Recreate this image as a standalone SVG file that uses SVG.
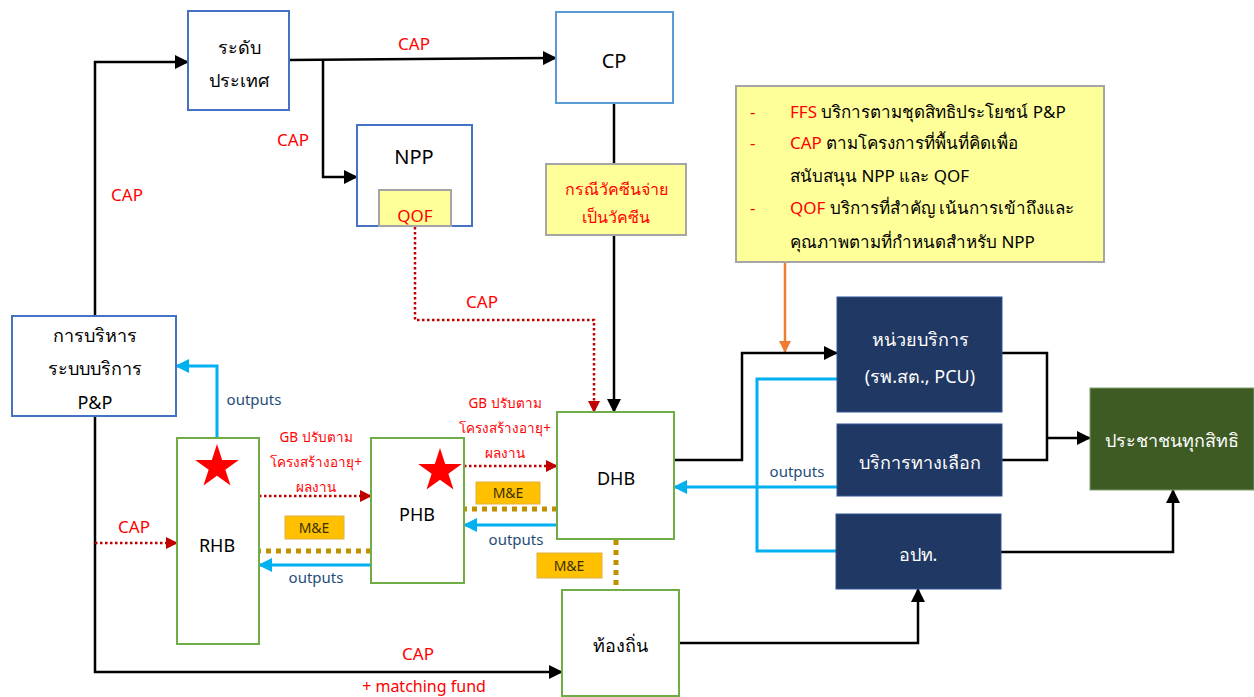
<svg xmlns="http://www.w3.org/2000/svg" width="1254" height="697" viewBox="0 0 1254 697">
<defs>
<style>
text{font-family:"Noto Sans","DejaVu Sans",Tahoma,sans-serif;}
.nb{fill:#fff;stroke:#4472C4;stroke-width:2;}
.nb2{fill:#fff;stroke:#5B9BD5;stroke-width:2;}
.ng{fill:#fff;stroke:#70AD47;stroke-width:2;}
.ny{fill:#FFFF99;stroke:#A5A5A5;stroke-width:2;}
.nd{fill:#203864;stroke:#2F5597;stroke-width:1;}
.ngr{fill:#3D5B23;stroke:#7F9F6F;stroke-width:1;}
.me{fill:#FFC000;stroke:#E0B040;stroke-width:1;}
.t{font-size:18px;fill:#000;text-anchor:middle;}
.tw{font-size:18px;fill:#fff;text-anchor:middle;}
.red{font-size:17px;fill:#FF0000;text-anchor:middle;}
.gb{font-size:13.5px;fill:#FF0000;text-anchor:middle;}
.out{font-size:15px;fill:#1F4E79;text-anchor:middle;}
.mt{font-size:14px;fill:#3A3000;text-anchor:middle;}
.blk{fill:none;stroke:#000;stroke-width:2.5;}
.blu{fill:none;stroke:#00B0F0;stroke-width:3;}
.dr{fill:none;stroke:#C00000;stroke-width:2.5;stroke-dasharray:2.5 2.5;}
.gd{fill:none;stroke:#BF9000;stroke-width:5;stroke-dasharray:5 5;}
.or{fill:none;stroke:#ED7D31;stroke-width:2.5;}
.lg{font-size:17px;fill:#000;}
</style>
<marker id="abk" markerWidth="14" markerHeight="14" refX="13" refY="7" orient="auto" markerUnits="userSpaceOnUse" viewBox="0 0 14 14"><path d="M0,0 L14,7 L0,14 z" fill="#000"/></marker>
<marker id="abl" markerWidth="14" markerHeight="14" refX="13" refY="7" orient="auto" markerUnits="userSpaceOnUse" viewBox="0 0 14 14"><path d="M0,0 L14,7 L0,14 z" fill="#00B0F0"/></marker>
<marker id="ard" markerWidth="12" markerHeight="12" refX="11" refY="6" orient="auto" markerUnits="userSpaceOnUse" viewBox="0 0 12 12"><path d="M0,0 L12,6 L0,12 z" fill="#C00000"/></marker>
<marker id="aor" markerWidth="12" markerHeight="12" refX="11" refY="6" orient="auto" markerUnits="userSpaceOnUse" viewBox="0 0 12 12"><path d="M0,0 L12,6 L0,12 z" fill="#ED7D31"/></marker>
<polygon id="star" points="0,-23 5.17,-7.12 21.87,-7.11 8.37,2.72 13.52,18.61 0,8.8 -13.52,18.61 -8.37,2.72 -21.87,-7.11 -5.17,-7.12" fill="#FF0000"/>
</defs>
<rect width="1254" height="697" fill="#fff"/>

<g id="connectors">
<path class="blk" d="M95,316 V62 H188" marker-end="url(#abk)"/>
<path class="blk" d="M95,416 V672 H562" marker-end="url(#abk)"/>
<path class="blk" d="M289,60 L556,58" marker-end="url(#abk)"/>
<path class="blk" d="M323,60 V177 H357" marker-end="url(#abk)"/>
<path class="blk" d="M614,103 V164"/>
<path class="blk" d="M614,235 V412" marker-end="url(#abk)"/>
<path class="dr" d="M415,227 V320 H594 V412" marker-end="url(#ard)"/>
<path class="or" d="M785,263 V352" marker-end="url(#aor)"/>
<path class="blk" d="M674,460 H742 V353 H837" marker-end="url(#abk)"/>
<path class="blu" d="M837,379 H757 V551 H836"/>
<path class="blu" d="M837,487 H674" marker-end="url(#abl)"/>
<path class="blk" d="M1002,353 H1047 V460 H1002"/>
<path class="blk" d="M1047,438 H1090" marker-end="url(#abk)"/>
<path class="blk" d="M1001,552 H1173 V490" marker-end="url(#abk)"/>
<path class="blk" d="M679,643 H918 V589" marker-end="url(#abk)"/>
<path class="blu" d="M217,438 V366 H176" marker-end="url(#abl)"/>
<path class="dr" d="M95,543 H177" marker-end="url(#ard)"/>
<path class="dr" d="M259,496 H371" marker-end="url(#ard)"/>
<path class="dr" d="M464,466 H557" marker-end="url(#ard)"/>
<path class="gd" d="M371,551 H259"/>
<path class="blu" d="M371,565 H259" marker-end="url(#abl)"/>
<path class="gd" d="M557,509 H464"/>
<path class="blu" d="M557,525 H464" marker-end="url(#abl)"/>
<path class="gd" d="M616,540 V590"/>
</g>

<g id="labels">
<text class="red" x="414" y="50">CAP</text>
<text class="red" x="293" y="146">CAP</text>
<text class="red" x="127" y="201">CAP</text>
<text class="red" x="482" y="308">CAP</text>
<text class="red" x="134" y="533">CAP</text>
<text class="red" x="418" y="660">CAP</text>
<text class="red" x="424" y="692" style="font-size:16px">+ matching fund</text>
<text class="out" x="254" y="405">outputs</text>
<text class="out" x="316" y="583">outputs</text>
<text class="out" x="516" y="545">outputs</text>
<text class="out" x="797" y="477">outputs</text>
<text class="gb" x="316" y="442">GB ปรับตาม</text>
<text class="gb" x="316" y="467">โครงสร้างอายุ+</text>
<text class="gb" x="316" y="492">ผลงาน</text>
<text class="gb" x="505" y="408">GB ปรับตาม</text>
<text class="gb" x="505" y="433">โครงสร้างอายุ+</text>
<text class="gb" x="505" y="458">ผลงาน</text>
</g>

<g id="me1"><rect class="me" x="285" y="516" width="59" height="23"/><text class="mt" x="314" y="533">M&amp;E</text></g>
<g id="me2"><rect class="me" x="476" y="482" width="64" height="22"/><text class="mt" x="508" y="498">M&amp;E</text></g>
<g id="me3"><rect class="me" x="537" y="553" width="65" height="25"/><text class="mt" x="569" y="571">M&amp;E</text></g>

<g id="country"><rect class="nb" x="188" y="11" width="101" height="99"/><text class="t" x="239" y="54">ระดับ</text><text class="t" x="239" y="87">ประเทศ</text></g>
<g id="cp"><rect class="nb2" x="556" y="12" width="117" height="91"/><text class="t" x="614" y="68" style="font-size:20px">CP</text></g>
<g id="npp"><rect class="nb" x="357" y="125" width="115" height="101"/><text class="t" x="414" y="164" style="font-size:20px">NPP</text>
<rect class="ny" x="379" y="190" width="72" height="36"/><text class="red" x="415" y="222">QOF</text></g>
<g id="vaccine"><rect class="ny" x="546" y="164" width="140" height="71"/><text class="red" x="616" y="195" style="font-size:16px">กรณีวัคซีนจ่าย</text><text class="red" x="616" y="223" style="font-size:16px">เป็นวัคซีน</text></g>
<g id="legend"><rect class="ny" x="736" y="86" width="368" height="176"/>
<text class="lg" x="750" y="118" style="fill:#FF0000">-</text>
<text class="lg" x="790" y="118"><tspan style="fill:#FF0000">FFS</tspan> บริการตามชุดสิทธิประโยชน์ P&amp;P</text>
<text class="lg" x="750" y="149" style="fill:#FF0000">-</text>
<text class="lg" x="790" y="149"><tspan style="fill:#FF0000">CAP</tspan> ตามโครงการที่พื้นที่คิดเพื่อ</text>
<text class="lg" x="790" y="182">สนับสนุน NPP และ QOF</text>
<text class="lg" x="750" y="214" style="fill:#FF0000">-</text>
<text class="lg" x="790" y="214"><tspan style="fill:#FF0000">QOF</tspan> บริการที่สำคัญ เน้นการเข้าถึงและ</text>
<text class="lg" x="790" y="248">คุณภาพตามที่กำหนดสำหรับ NPP</text></g>
<g id="pp"><rect class="nb" x="12" y="316" width="164" height="100"/><text class="t" x="95" y="342">การบริหาร</text><text class="t" x="95" y="375">ระบบบริการ</text><text class="t" x="95" y="409">P&amp;P</text></g>
<g id="rhb"><rect class="ng" x="177" y="438" width="82" height="206"/><use href="#star" x="217" y="467"/><text class="t" x="217" y="552">RHB</text></g>
<g id="phb"><rect class="ng" x="371" y="438" width="93" height="145"/><use href="#star" x="440" y="471"/><text class="t" x="417" y="521">PHB</text></g>
<g id="dhb"><rect class="ng" x="557" y="412" width="117" height="127"/><text class="t" x="616" y="485">DHB</text></g>
<g id="local"><rect class="ng" x="562" y="590" width="117" height="106"/><text class="t" x="620" y="652">ท้องถิ่น</text></g>
<g id="unit"><rect class="nd" x="837" y="297" width="165" height="115"/><text class="tw" x="920" y="346">หน่วยบริการ</text><text class="tw" x="920" y="383">(รพ.สต., PCU)</text></g>
<g id="alt"><rect class="nd" x="837" y="424" width="165" height="72"/><text class="tw" x="920" y="469">บริการทางเลือก</text></g>
<g id="lao"><rect class="nd" x="836" y="514" width="165" height="75"/><text class="tw" x="918" y="561">อปท.</text></g>
<g id="people"><rect class="ngr" x="1090" y="388" width="164" height="102"/><text class="tw" x="1172" y="447">ประชาชนทุกสิทธิ</text></g>
</svg>
